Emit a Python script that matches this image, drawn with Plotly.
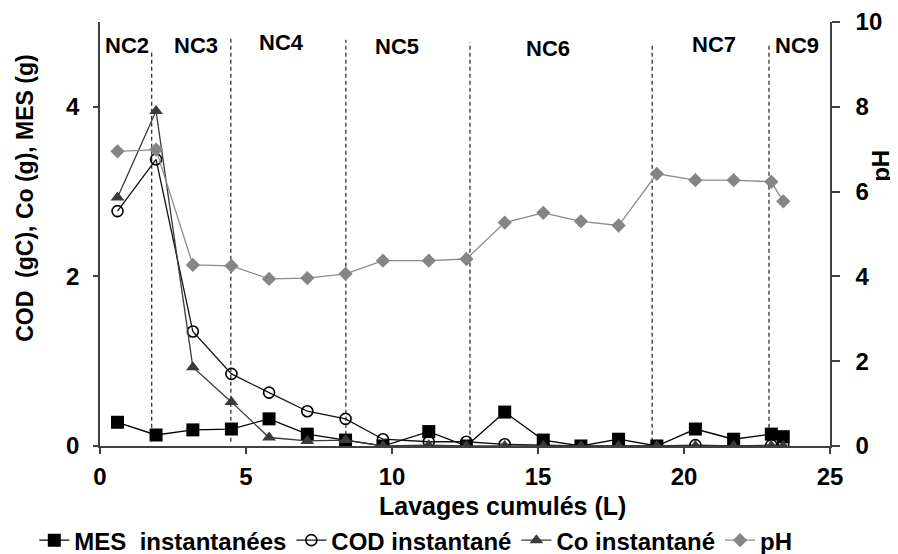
import plotly.graph_objects as go

# ---- data ----
lavages = [0.60, 1.92, 3.18, 4.50, 5.79, 7.10, 8.41, 9.69, 11.26, 12.55,
           13.86, 15.18, 16.47, 17.76, 19.07, 20.39, 21.70, 22.99, 23.40]
mes = [0.28, 0.13, 0.19, 0.20, 0.32, 0.14, 0.07, 0.00, 0.17, 0.00,
       0.40, 0.07, 0.00, 0.08, 0.00, 0.20, 0.08, 0.14, 0.11]
cod = [2.77, 3.38, 1.35, 0.85, 0.63, 0.41, 0.32, 0.08, 0.05, 0.05,
       0.02, 0.01, 0.00, 0.00, 0.00, 0.01, 0.00, 0.01, 0.01]
co = [2.93, 3.95, 0.93, 0.52, 0.10, 0.06, 0.07, 0.00, 0.01, 0.00,
      0.00, 0.00, 0.00, 0.00, 0.00, 0.00, 0.00, 0.00, 0.00]
ph = [6.95, 6.99, 4.27, 4.25, 3.94, 3.96, 4.06, 4.37, 4.37, 4.41,
      5.27, 5.50, 5.30, 5.20, 6.42, 6.27, 6.27, 6.23, 5.77]

boundaries = [1.77, 4.48, 8.42, 12.67, 18.91, 22.91]
boundary_tops = [4.64, 4.81, 4.79, 4.76, 4.75, 4.75]
nc_labels = ["NC2", "NC3", "NC4", "NC5", "NC6", "NC7", "NC9"]
nc_x = [0.94, 3.28, 6.20, 10.18, 15.34, 21.04, 23.86]
nc_y = [4.72, 4.72, 4.76, 4.71, 4.69, 4.73, 4.72]

FONT = "Liberation Sans, Arial, sans-serif"


def bold(size):
    return dict(family=FONT, size=size, color="#000000", weight="bold")


fig = go.Figure()
fig.add_trace(go.Scatter(
    x=lavages, y=mes, name="MES  instantanées", mode="lines+markers",
    line=dict(color="#000000", width=1.3),
    marker=dict(symbol="square", size=13, color="#000000")))
fig.add_trace(go.Scatter(
    x=lavages, y=cod, name="COD instantané", mode="lines+markers",
    line=dict(color="#111111", width=1.3),
    marker=dict(symbol="circle-open", size=11, color="#000000", line=dict(width=1.6))))
fig.add_trace(go.Scatter(
    x=lavages, y=co, name="Co instantané", mode="lines+markers",
    line=dict(color="#3a3a3a", width=1.3),
    marker=dict(symbol="triangle-up", size=12, color="#3a3a3a")))
fig.add_trace(go.Scatter(
    x=lavages, y=ph, name="pH", mode="lines+markers", yaxis="y2",
    line=dict(color="#8c8c8c", width=1.3),
    marker=dict(symbol="diamond", size=11, color="#858585")))

for bx, bt in zip(boundaries, boundary_tops):
    fig.add_shape(type="line", xref="x", yref="y", x0=bx, x1=bx, y0=0.05, y1=bt,
                  line=dict(color="#333333", width=1.3, dash="4px,3px"), layer="below")

for lab, lx, ly in zip(nc_labels, nc_x, nc_y):
    fig.add_annotation(x=lx, y=ly, xref="x", yref="y", text=lab, showarrow=False,
                       font=bold(22), xanchor="center", yanchor="middle")

fig.add_annotation(x=-0.103, y=0.585, xref="paper", yref="paper",
                   text="COD  (gC), Co (g), MES (g)", textangle=-90, showarrow=False,
                   font=bold(23), xanchor="center", yanchor="middle")
fig.add_annotation(x=0.552, y=-0.141, xref="paper", yref="paper",
                   text="Lavages cumulés (L)", showarrow=False,
                   font=bold(25), xanchor="center", yanchor="middle")
fig.add_annotation(x=1.070, y=0.661, xref="paper", yref="paper",
                   text="pH", textangle=-90, showarrow=False,
                   font=bold(24), xanchor="center", yanchor="middle")

axis_common = dict(showgrid=False, zeroline=False, showline=True, linecolor="#404040",
                   linewidth=1.5, ticks="outside", tickcolor="#404040", tickwidth=1.5,
                   tickfont=bold(24), automargin=False)

# page body adds an 8px offset, so the figure is 8px smaller and margins shifted
fig.update_layout(
    width=890, height=546,
    margin=dict(l=92, r=68, t=14, b=108, autoexpand=False),
    paper_bgcolor="white", plot_bgcolor="white",
    font=dict(family=FONT, color="#000000"),
    xaxis=dict(range=[0, 25], dtick=5, tick0=0, ticklen=6, ticklabelstandoff=2, **axis_common),
    yaxis=dict(range=[0, 5], tickvals=[0, 2, 4], ticklen=5, ticklabelstandoff=9, **axis_common),
    yaxis2=dict(range=[0, 10], dtick=2, tick0=0, overlaying="y", side="right", ticklen=8,
                ticklabelstandoff=11, **axis_common),
    showlegend=True,
    legend=dict(orientation="h", x=-0.09, y=-0.223, xanchor="left", yanchor="middle",
                font=bold(24), bgcolor="rgba(0,0,0,0)", itemwidth=30, tracegroupgap=0),
)

fig.write_html("out.html")
